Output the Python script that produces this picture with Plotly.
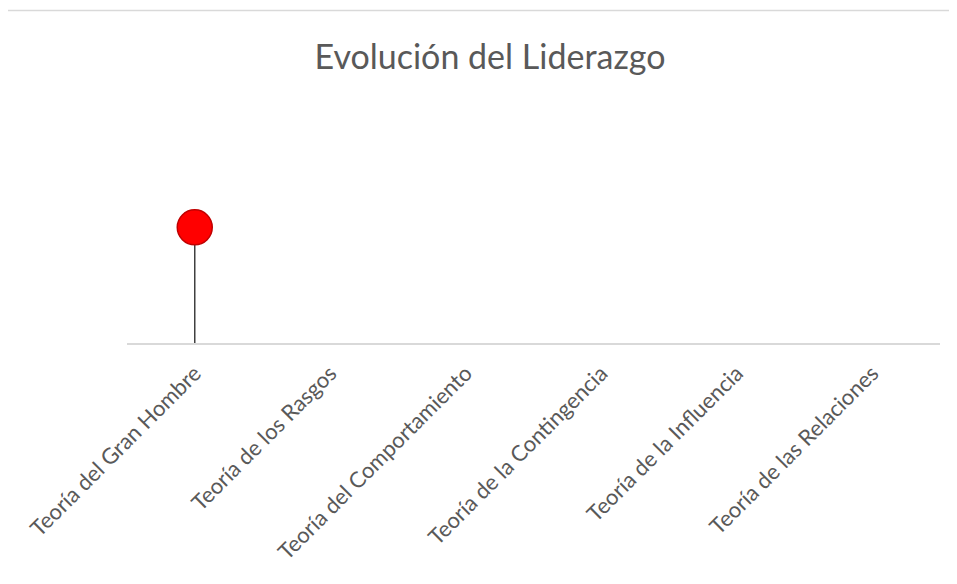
import plotly.graph_objects as go

categories = ["Teoría del Gran Hombre", "Teoría de los Rasgos", "Teoría del Comportamiento",
              "Teoría de la Contingencia", "Teoría de la Influencia", "Teoría de las Relaciones"]
values = [1, None, None, None, None, None]

# page has an 8px body margin; compensate
OFF = 8
W, H = 957 - OFF, 584 - OFF
L, R, T = 127 - OFF, 17, 100 - OFF
plot_bottom = 343 - OFF
B = H - plot_bottom

fig = go.Figure()
fig.add_trace(go.Scatter(
    x=categories, y=values, mode="markers",
    marker=dict(size=35, color="#FF0000", line=dict(color="#C00000", width=1.5)),
    error_y=dict(type="data", symmetric=False, array=[0]*6,
                 arrayminus=[v if v is not None else 0 for v in values],
                 color="#404040", thickness=1.5, width=0),
    cliponaxis=False, showlegend=False,
))

pw = W - L - R
ph = H - T - B
line_y = 10.5 - OFF
fig.add_shape(type="line", xref="paper", yref="paper",
              x0=(7 - OFF - L) / pw, x1=(W - L) / pw,
              y0=(plot_bottom - line_y) / ph, y1=(plot_bottom - line_y) / ph,
              line=dict(color="#d9d9d9", width=1.5))

fig.update_layout(
    width=W, height=H,
    margin=dict(l=L, r=R, t=T, b=B, autoexpand=False),
    paper_bgcolor="white", plot_bgcolor="white",
    title=dict(text="Evolución del Liderazgo", x=(490 - OFF) / W, xanchor="center",
               y=1 - (57 - OFF) / H, yanchor="middle",
               font=dict(family="Lato", size=34, color="#595959")),
    xaxis=dict(type="category", categoryorder="array", categoryarray=categories,
               range=[-0.5, 5.5], tickangle=-45, showgrid=False, zeroline=False,
               showline=True, linecolor="#d9d9d9", linewidth=1.5, ticks="",
               ticklabelstandoff=7, automargin=False,
               tickfont=dict(family="Lato", size=22, color="#595959")),
    yaxis=dict(range=[0, 2.1], visible=False, showgrid=False, zeroline=False,
               automargin=False),
)

fig.write_html("out.html")
